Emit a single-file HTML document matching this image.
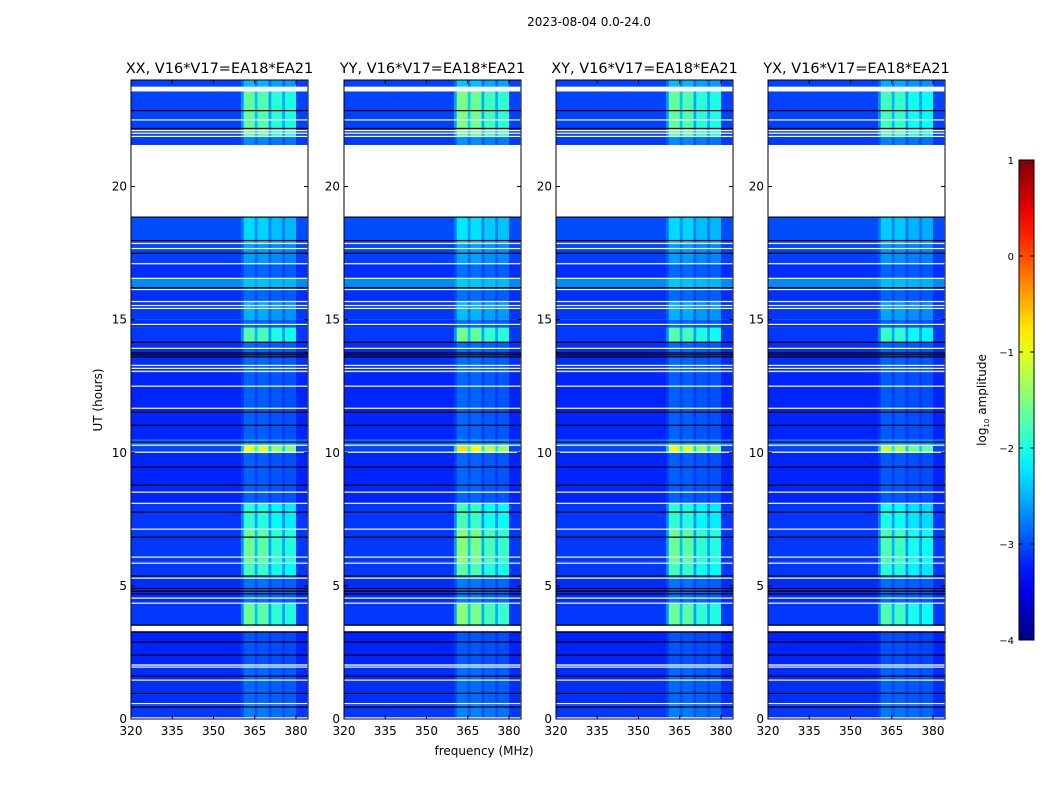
<!DOCTYPE html>
<html><head><meta charset="utf-8">
<style>
body{margin:0;background:#fff;}
svg text{font-family:"DejaVu Sans","Liberation Sans",sans-serif;fill:#000;}
</style></head>
<body>
<svg id="fig" width="1050" height="800" xmlns="http://www.w3.org/2000/svg">
<text x="589" y="26" font-size="12" text-anchor="middle">2023-08-04 0.0-24.0</text>
<text x="484" y="755" font-size="12" text-anchor="middle">frequency (MHz)</text>
<text transform="translate(102,400) rotate(-90)" font-size="12" text-anchor="middle">UT (hours)</text>
<g id="panels"></g>
<g id="cbar"></g>
</svg>
<script>
// ---- data ----
const panelTitles = ["XX, V16*V17=EA18*EA21","YY, V16*V17=EA18*EA21","XY, V16*V17=EA18*EA21","YX, V16*V17=EA18*EA21"];
const panelRfiScale = [1.0, 1.1, 1.0, 0.9];
const xTicks = [320,335,350,365,380];
const yTicks = [0,5,10,15,20];
const cbarTicks = [-4,-3,-2,-1,0,1];
// time bands: start hour, end hour, base log amplitude (null = flagged/white), RFI strength
const bandStart = [0,0.5,1.0,2.0,3.3,3.5,4.35,5.35,5.9,7.1,8.1,10.0,10.28,10.5,13.0,14.15,14.7,15.0,15.7,16.2,16.55,17.1,17.9,18.85,21.56,21.9,22.85,23.57,23.75];
const bandEnd   = [0.5,1.0,2.0,3.3,3.5,4.35,5.35,5.9,7.1,8.1,10.0,10.28,10.5,13.0,14.15,14.7,15.0,15.7,16.2,16.55,17.1,17.9,18.85,21.56,21.9,22.85,23.57,23.75,24];
const bandBase  = [-3.1,-3.15,-3.15,-3.2,null,-3.1,-3.15,-3.1,-3.1,-3.1,-3.2,-3.05,-2.85,-3.2,-3.15,-3.1,-3.15,-3.1,-3.15,-2.7,-3.15,-3.05,-3.0,null,-3.1,-3.05,-3.05,null,-3.05];
const bandRfi   = [0.35,0.3,0.3,0.25,0,1.5,0.35,1.3,1.5,1.2,0.3,2.1,0.3,0.3,0.3,1.4,0.3,0.6,0.3,0.3,0.3,0.45,0.7,0,0.4,1.4,1.4,0,0.6];
// channel RFI gain, 1 MHz bins starting at 360 MHz
const chanStart = 360;
const chanGain = [0.3,1,1,1,1,0.45,0.95,0.95,0.95,0.95,0.35,0.8,0.8,0.8,0.8,0.35,0.75,0.75,0.75,0.75,0,0,0,0];
const whiteLines = [0.04,0.58,1.46,1.95,2.03,4.35,4.54,5.29,5.85,6.08,7.13,8.1,8.52,10.02,10.28,11.67,12.5,13.06,13.17,13.28,13.92,14.82,15.42,15.53,15.68,16.13,16.55,17.1,17.67,17.86,21.88,22.0,22.1,22.5];
const blackLines = [0.45,0.97,1.61,2.4,2.89,3.26,3.53,4.7,4.8,4.9,5.37,6.83,7.77,8.78,9.46,10.4,11.03,11.52,13.6,13.68,13.75,14.15,16.2,17.49,17.97,18.85,22.18,22.85];

// ---- layout ----
const NS="http://www.w3.org/2000/svg";
const panelX=[131,344,556,768], PW=177, PT=80, PB=719;
const fMin=320, fMax=384.36, tMin=0, tMax=24;
function jet(v){ // v in [-4,1]
  let t=Math.max(0,Math.min(1,(v+4)/5));
  const f=x=>Math.max(0,Math.min(1,x));
  const r=f(1.5-Math.abs(4*t-3)), g=f(1.5-Math.abs(4*t-2)), b=f(1.5-Math.abs(4*t-1));
  return `rgb(${Math.round(r*255)},${Math.round(g*255)},${Math.round(b*255)})`;
}
function mk(tag,attrs,parent){const e=document.createElementNS(NS,tag);for(const k in attrs)e.setAttribute(k,attrs[k]);parent.appendChild(e);return e;}
const yS=h=>PB-(h-tMin)/(tMax-tMin)*(PB-PT);
const root=document.getElementById('panels');
panelTitles.forEach((title,p)=>{
  const x0=panelX[p];
  const xS=f=>x0+(f-fMin)/(fMax-fMin)*PW;
  const g=mk('g',{},root);
  
  
  const t=mk('text',{x:x0+PW/2,y:73,'font-size':14.5,'text-anchor':'middle'},g);
  t.textContent=title;
  
  
  for(let i=0;i<bandStart.length;i++){
    if(bandBase[i]===null) continue;
    const y1=yS(bandEnd[i]), y2=yS(bandStart[i]);
    const r=mk('rect',{x:xS(fMin),y:y1,width:xS(chanStart)-xS(fMin)+0.3,height:y2-y1,fill:jet(bandBase[i])},g);
    
    
    chanGain.forEach((cg,c)=>{
      const fa=chanStart+c, fb=Math.min(fMax,fa+1);
      const v=bandBase[i]+bandRfi[i]*panelRfiScale[p]*cg;
      const rc=mk('rect',{x:xS(fa),y:y1,width:xS(fb)-xS(fa)+0.3,height:y2-y1,fill:jet(v)},g);
      
      
    });
  }
  whiteLines.forEach(h=>{const l=mk('rect',{x:x0,y:yS(h)-0.6,width:PW,height:1.2,fill:'#fff'},g);
    });
  blackLines.forEach(h=>{const l=mk('rect',{x:x0,y:yS(h)-0.6,width:PW,height:1.2,fill:'#000'},g);
    });
  const fr=mk('rect',{x:x0,y:PT,width:PW,height:PB-PT,fill:'none',stroke:'#000','stroke-width':1},g);
  
  
  xTicks.forEach(v=>{const x=xS(v);
    mk('line',{x1:x,x2:x,y1:PB,y2:PB-4,stroke:'#000'},g);
    mk('line',{x1:x,x2:x,y1:PT,y2:PT+4,stroke:'#000'},g);
    const tx=mk('text',{x:x,y:PB+16,'font-size':12,'text-anchor':'middle'},g);
    tx.textContent=v;
    
    });
  yTicks.forEach(v=>{const y=yS(v);
    mk('line',{x1:x0,x2:x0+4,y1:y,y2:y,stroke:'#000'},g);
    mk('line',{x1:x0+PW,x2:x0+PW-4,y1:y,y2:y,stroke:'#000'},g);
    const ty=mk('text',{x:x0-4,y:y+4,'font-size':12,'text-anchor':'end'},g);
    ty.textContent=v;
    
    });
});
// colorbar
const cb=document.getElementById('cbar');
const CX=1019,CW=15,CT=160,CB=640;
const defs=mk('defs',{},cb);
const lg=mk('linearGradient',{id:'jetg',x1:0,y1:1,x2:0,y2:0},defs);
for(let i=0;i<=20;i++){mk('stop',{offset:i/20,'stop-color':jet(-4+5*i/20)},lg);}
const cr=mk('rect',{x:CX,y:CT,width:CW,height:CB-CT,fill:'url(#jetg)',stroke:'#000'},cb);


const cyS=v=>CB-(v+4)/5*(CB-CT);
cbarTicks.forEach(v=>{const y=cyS(v);
  mk('line',{x1:CX,x2:CX+4,y1:y,y2:y,stroke:'#000'},cb);
  mk('line',{x1:CX+CW,x2:CX+CW-4,y1:y,y2:y,stroke:'#000'},cb);
  const t=mk('text',{x:CX-5,y:y+4,'font-size':10,'text-anchor':'end'},cb);
  t.textContent=(v<0?'\u2212'+(-v):v);
  
  });
const cl=mk('text',{transform:'translate(986,400) rotate(-90)','font-size':12,'text-anchor':'middle'},cb);
cl.innerHTML='log<tspan font-size="7" dy="3">10</tspan><tspan dy="-3"> amplitude</tspan>';


</script>
</body></html>
